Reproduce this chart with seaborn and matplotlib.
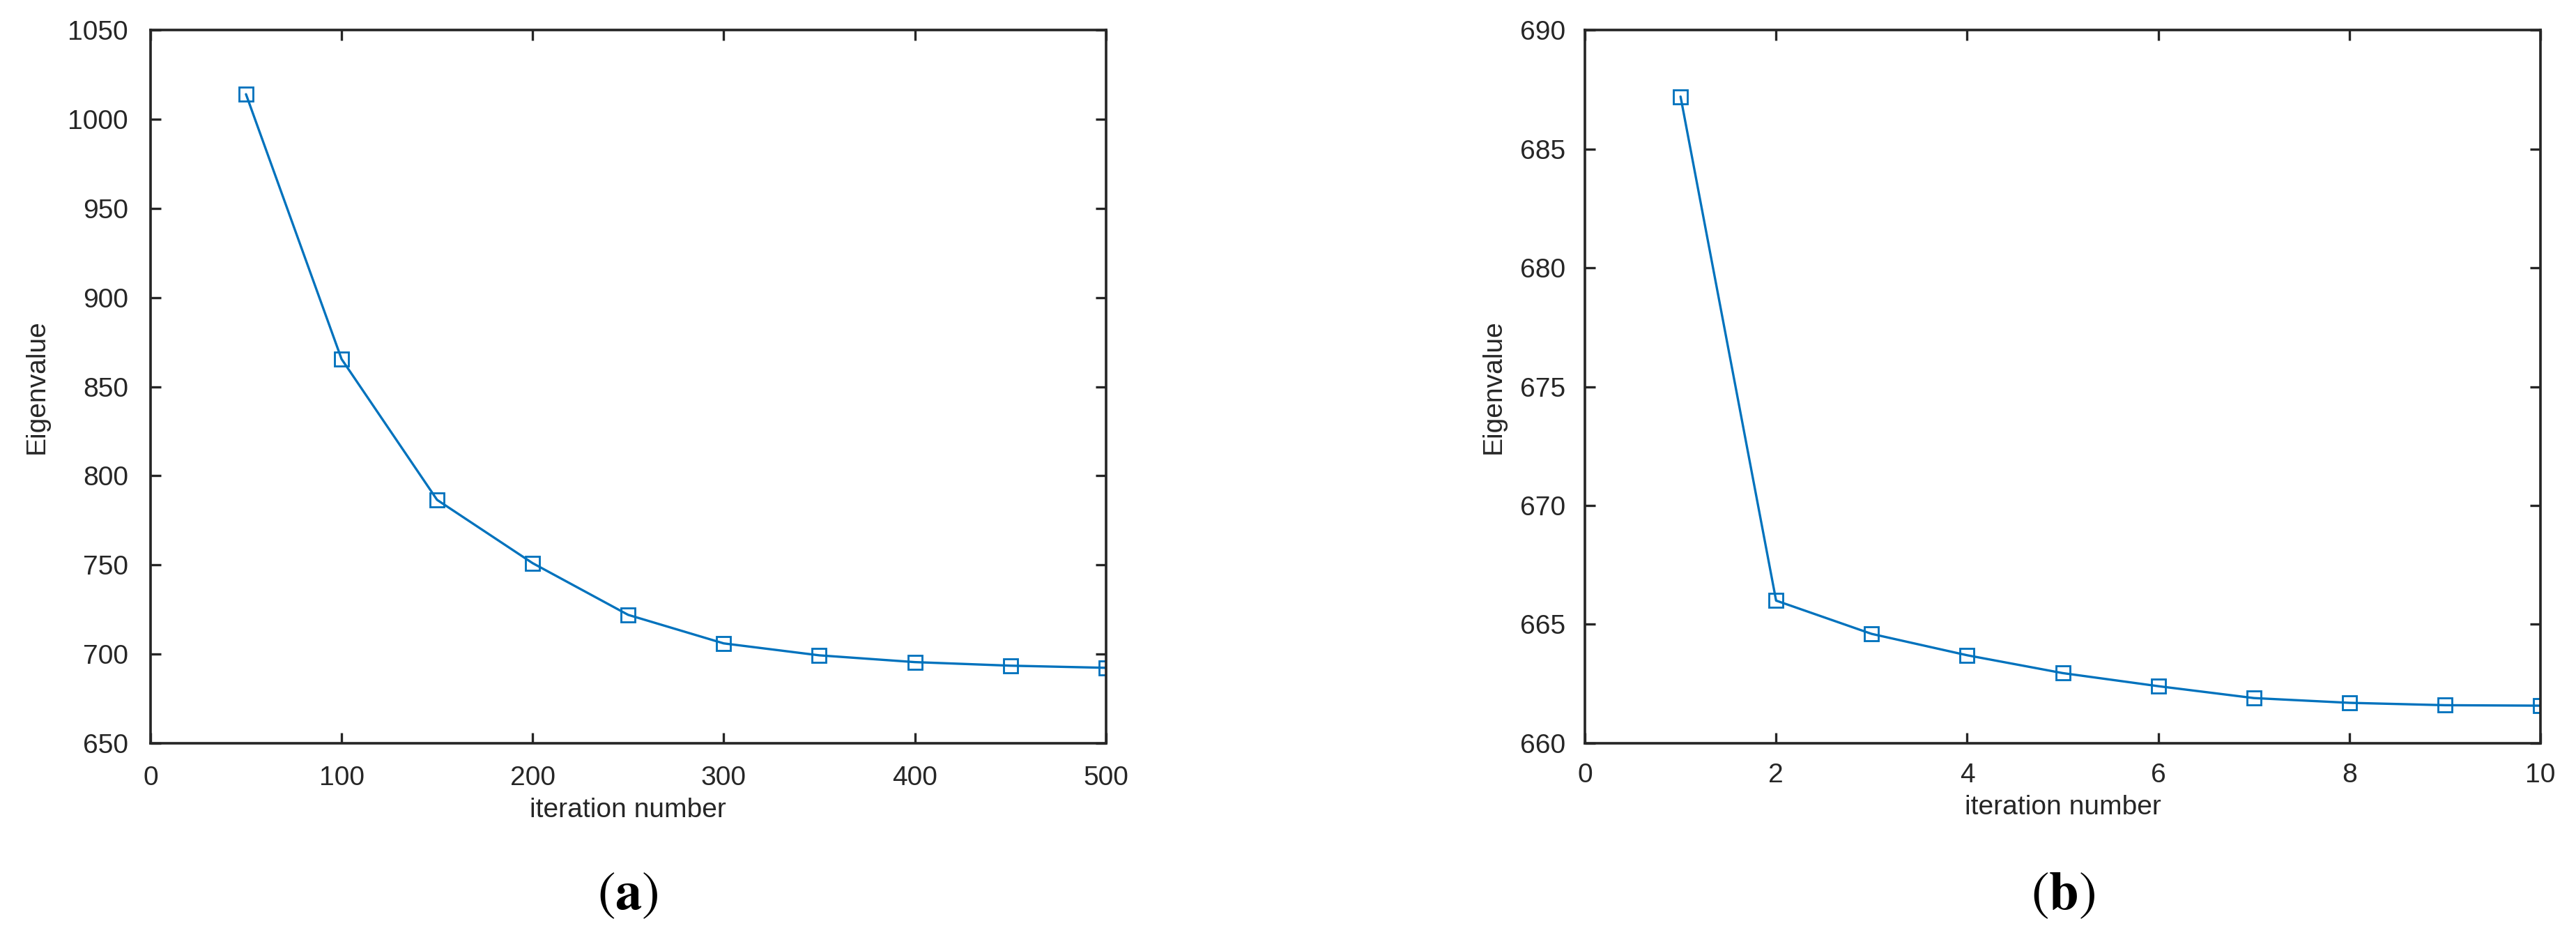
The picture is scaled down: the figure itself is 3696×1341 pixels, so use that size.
import matplotlib
matplotlib.use("Agg")
import matplotlib.pyplot as plt
import seaborn as sns
import pandas as pd

# panel (a): eigenvalue vs iteration number, coarse steps
iters_a = [50, 100, 150, 200, 250, 300, 350, 400, 450, 500]
eig_a = [1014, 865.5, 786.5, 751, 722, 706, 699.3, 695.5, 693.5, 692.3]

# panel (b): eigenvalue vs iteration number, fine steps
iters_b = [1, 2, 3, 4, 5, 6, 7, 8, 9, 10]
eig_b = [687.2, 666.0, 664.6, 663.7, 662.95, 662.4, 661.9, 661.7, 661.6, 661.58]

sns.set_style("ticks")
plt.rcParams['font.family'] = ['Liberation Sans', 'DejaVu Sans']
plt.rcParams['mathtext.fontset'] = 'stix'

blue = '#0072BD'
dark = '#262626'

fig = plt.figure(figsize=(15.4, 5.5875), dpi=240)
ax_a = fig.add_axes([0.0584, 0.2051, 0.3709, 0.7628])
ax_b = fig.add_axes([0.6153, 0.2051, 0.3709, 0.7628])

panels = [
    (ax_a, iters_a, eig_a, (0, 500), range(0, 501, 100), (650, 1050), range(650, 1051, 50), 'a', 9.6, 8),
    (ax_b, iters_b, eig_b, (0, 10), range(0, 11, 2), (660, 690), range(660, 691, 5), 'b', 8.4, 6),
]

for ax, xs, ys, xlim, xt, ylim, yt, tag, pad, ylpad in panels:
    df = pd.DataFrame({'iter': xs, 'eig': ys})
    sns.lineplot(data=df, x='iter', y='eig', ax=ax, color=blue, marker='s',
                 markersize=6, markerfacecolor='none', markeredgecolor=blue,
                 markeredgewidth=0.85, linewidth=1.0)
    ax.set_xlim(*xlim)
    ax.set_ylim(*ylim)
    ax.set_xticks(list(xt))
    ax.set_yticks(list(yt))
    ax.tick_params(direction='in', top=True, right=True, length=4.4, width=1.0,
                   labelsize=11.7, colors=dark, labelcolor=dark, pad=pad)
    for s in ax.spines.values():
        s.set_visible(True)
        s.set_linewidth(1.1)
        s.set_color(dark)
    ax.set_xlabel('iteration number', fontsize=11.7, color=dark, labelpad=3)
    ax.set_ylabel('Eigenvalue', fontsize=11.7, color=dark, labelpad=ylpad)
    pos = ax.get_position()
    fig.text((pos.x0 + pos.x1) / 2, 0.043, r'$(\mathbf{' + tag + r'})$',
             ha='center', va='center', fontsize=23, color='black')

fig.savefig('out.png', dpi=240, facecolor='white')
